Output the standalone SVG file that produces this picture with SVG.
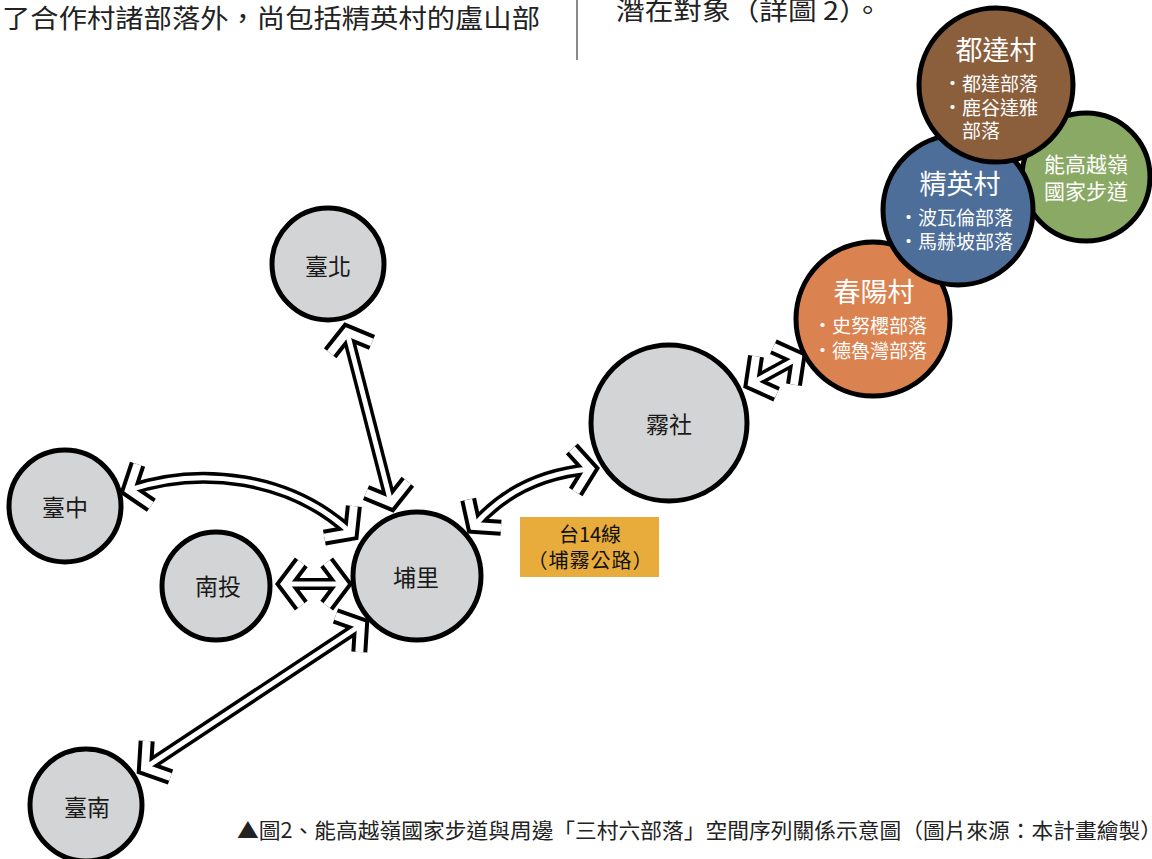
<svg xmlns="http://www.w3.org/2000/svg" width="1152" height="859" viewBox="0 0 1152 859">
<style>
.bg{fill:#ffffff}
.node{stroke:#000;stroke-width:5}
.gray{fill:#d3d4d6}
.lbl{font-family:"Noto Sans CJK TC","Noto Sans CJK SC",sans-serif;font-size:23px;fill:#1a1a1a;text-anchor:middle}
.title{font-family:"Noto Sans CJK TC","Noto Sans CJK SC",sans-serif;font-size:27px;fill:#fff;text-anchor:middle}
.item{font-family:"Noto Sans CJK TC","Noto Sans CJK SC",sans-serif;font-size:19px;fill:#fff}
.trail{font-family:"Noto Sans CJK TC","Noto Sans CJK SC",sans-serif;font-size:21px;fill:#fff;text-anchor:middle}
.body{font-family:"Noto Sans CJK TC","Noto Sans CJK SC",serif;font-size:26px;fill:#222}
.cap{font-family:"Noto Sans CJK TC","Noto Sans CJK SC",serif;font-size:21px;fill:#222}
.box{font-family:"Noto Sans CJK TC","Noto Sans CJK SC",sans-serif;font-size:20px;fill:#111;text-anchor:middle}
.sb{fill:none;stroke:#000;stroke-width:12;marker-start:url(#hb);marker-end:url(#hb)}
.sw{fill:none;stroke:#fff;stroke-width:5;marker-start:url(#hw);marker-end:url(#hw)}
</style>
<defs>
<marker id="hb" markerUnits="userSpaceOnUse" orient="auto-start-reverse" refX="0" refY="0" markerWidth="1" markerHeight="1" overflow="visible">
<polyline points="-16.3,-21.6 0,0 -16.3,21.6" fill="none" stroke="#000" stroke-width="16" stroke-linejoin="miter" stroke-linecap="butt"/>
</marker>
<marker id="hw" markerUnits="userSpaceOnUse" orient="auto-start-reverse" refX="0" refY="0" markerWidth="1" markerHeight="1" overflow="visible">
<polyline points="-16.3,-21.6 0,0 -16.3,21.6" fill="none" stroke="#fff" stroke-width="8" stroke-linejoin="miter" stroke-linecap="butt"/>
</marker>
</defs>
<rect class="bg" x="0" y="0" width="1152" height="859"/>

<g id="page-text">
<text class="body" x="2" y="28" textLength="538" lengthAdjust="spacingAndGlyphs">了合作村諸部落外，尚包括精英村的盧山部</text>
<line x1="577" y1="0" x2="577" y2="60" stroke="#8a8a8a" stroke-width="2"/>
<text class="body" x="616" y="20" textLength="266" lengthAdjust="spacingAndGlyphs">潛在對象（詳圖 2）。</text>
<text class="cap" x="237" y="838" textLength="925" lengthAdjust="spacingAndGlyphs">▲圖2、能高越嶺國家步道與周邊「三村六部落」空間序列關係示意圖（圖片來源：本計畫繪製）</text>
</g>

<g id="connectors">
<g id="conn-outline">
<path class="sb" d="M347,332 L391,503"/>
<path class="sb" d="M129,490 C200,466 290,476 351,533"/>
<path class="sb" d="M285,584 L343,584"/>
<path class="sb" d="M145,768 L361,625"/>
<path class="sb" d="M474,526 C498,498 535,474 590,469"/>
<path class="sb" d="M752,383 L798,358"/>
</g>
<g id="conn-fill">
<path class="sw" d="M347,332 L391,503"/>
<path class="sw" d="M129,490 C200,466 290,476 351,533"/>
<path class="sw" d="M285,584 L343,584"/>
<path class="sw" d="M145,768 L361,625"/>
<path class="sw" d="M474,526 C498,498 535,474 590,469"/>
<path class="sw" d="M752,383 L798,358"/>
</g>
</g>

<g id="node-taipei"><circle class="node gray" cx="328" cy="264" r="56"/><text class="lbl" x="328" y="275">臺北</text></g>
<g id="node-taichung"><circle class="node gray" cx="65" cy="506" r="56"/><text class="lbl" x="65" y="516">臺中</text></g>
<g id="node-nantou"><circle class="node gray" cx="216" cy="586" r="54"/><text class="lbl" x="218" y="595">南投</text></g>
<g id="node-puli"><circle class="node gray" cx="417" cy="576" r="64"/><text class="lbl" x="416" y="586">埔里</text></g>
<g id="node-tainan"><circle class="node gray" cx="86" cy="805" r="56"/><text class="lbl" x="87" y="816">臺南</text></g>
<g id="node-wushe"><circle class="node gray" cx="669" cy="423" r="78"/><text class="lbl" x="669" y="433">霧社</text></g>

<g id="label-route">
<rect x="520" y="517" width="139" height="60" fill="#e8ac3c"/>
<text class="box" x="590" y="542">台14線</text>
<text class="box" x="590" y="568" textLength="125" lengthAdjust="spacing">（埔霧公路）</text>
</g>

<g id="node-chunyang"><circle class="node" fill="#da8350" cx="873" cy="319" r="77"/>
<text class="title" x="874" y="302">春陽村</text>
<text class="item" x="813" y="333">・史努櫻部落</text>
<text class="item" x="813" y="358">・德魯灣部落</text></g>

<g id="node-trail"><circle class="node" fill="#8aa964" cx="1086" cy="177" r="64"/>
<text class="trail" x="1086" y="172">能高越嶺</text>
<text class="trail" x="1086" y="199">國家步道</text></g>

<g id="node-jingying"><circle class="node" fill="#4d6e99" cx="958" cy="210" r="75"/>
<text class="title" x="960" y="194">精英村</text>
<text class="item" x="899" y="225">・波瓦倫部落</text>
<text class="item" x="899" y="249">・馬赫坡部落</text></g>

<g id="node-duda"><circle class="node" fill="#8b5e3c" cx="996" cy="85" r="77"/>
<text class="title" x="996" y="60">都達村</text>
<text class="item" x="943" y="91">・都達部落</text>
<text class="item" x="943" y="115">・鹿谷達雅</text>
<text class="item" x="962" y="138">部落</text></g>
</svg>
